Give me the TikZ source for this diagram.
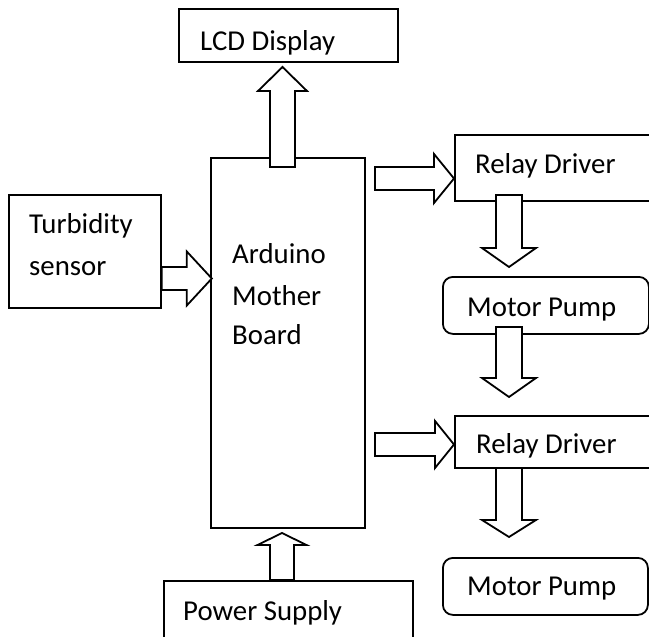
\documentclass[tikz,border=0pt]{standalone}
\usepackage{fontspec}
\setmainfont{Carlito}
\begin{document}
\begin{tikzpicture}[x=1pt,y=-1pt,
  boxst/.style={draw,line width=1.8pt,inner sep=0pt,anchor=north west},
  roundbox/.style={boxst,rounded corners=10pt},
  lbl/.style={inner sep=0pt,anchor=base west,font=\fontsize{28.8}{34}\selectfont},
  barrow/.style={draw,fill=white,line width=1.8pt,line join=miter}]
\useasboundingbox (0,0) rectangle (649,637);
% #1 start, #2 signed length, #3 shaft half, #4 head half, #5 signed head length
\newcommand\harrow[5]{\draw[barrow] (#1) ++(0,-#3) -- ++({#2-#5},0) -- ++(0,{-(#4-#3)}) -- ++(#5,#4) -- ++(-#5,#4) -- ++(0,{-(#4-#3)}) -- ++({-(#2-#5)},0) -- cycle;}
\newcommand\varrow[5]{\draw[barrow] (#1) ++(-#3,0) -- ++(0,{#2-#5}) -- ++({-(#4-#3)},0) -- ++(#4,#5) -- ++(#4,-#5) -- ++({-(#4-#3)},0) -- ++(0,{-(#2-#5)}) -- cycle;}

% boxes
\node[boxst,minimum width=219pt,minimum height=53pt] (lcd) at (178,8) {};
\node[boxst,minimum width=154pt,minimum height=370pt] (ard) at (210,157) {};
\node[boxst,minimum width=152pt,minimum height=113pt] (turb) at (8,194) {};
\node[boxst,minimum width=220pt,minimum height=66pt] (relayA) at (454,134) {};
\node[roundbox,minimum width=206pt,minimum height=57pt] (motorA) at (442,276) {};
\node[boxst,minimum width=220pt,minimum height=52pt] (relayB) at (454,415) {};
\node[roundbox,minimum width=205pt,minimum height=57pt] (motorB) at (442,557) {};
\node[boxst,minimum width=249pt,minimum height=80pt] (power) at (163,580) {};

% texts
\node[lbl] (tlcd) at (200,50) {LCD Display};
\node[lbl] (tard1) at (232,263) {Arduino};
\node[lbl] (tard2) at (232,305) {Mother};
\node[lbl] (tard3) at (232,344) {Board};
\node[lbl] (tturb1) at (29,233) {Turbidity};
\node[lbl] (tturb2) at (29,275) {sensor};
\node[lbl] (trelA) at (475,173) {Relay Driver};
\node[lbl] (tmotA) at (467,316) {Motor Pump};
\node[lbl] (trelB) at (476,453) {Relay Driver};
\node[lbl] (tmotB) at (467,595) {Motor Pump};
\node[lbl] (tpow) at (183,620) {Power Supply};

% connector start points
\coordinate (sLcd) at (282.5,167);
\coordinate (sTurb) at (turb.east |- 0,278.5);
\coordinate (sRelA) at (375,178.5);
\coordinate (sRelB) at (375,444.5);
\coordinate (sMotA) at (509,195);
\coordinate (sRelB2) at (509,327);
\coordinate (sMotB) at (509,468);
\coordinate (sPow) at (282,580);

% block arrows
\varrow{sLcd}{-100}{12.5}{24.5}{-24}
\harrow{sTurb}{50}{11.5}{27}{25}
\harrow{sRelA}{79}{11.5}{24.5}{20}
\harrow{sRelB}{79}{11.5}{23.5}{19}
\varrow{sMotA}{72}{13}{27}{19}
\varrow{sRelB2}{70}{13}{27}{19}
\varrow{sMotB}{69}{13}{27}{17}
\varrow{sPow}{-47}{12}{24.5}{-12}
\end{tikzpicture}
\end{document}
